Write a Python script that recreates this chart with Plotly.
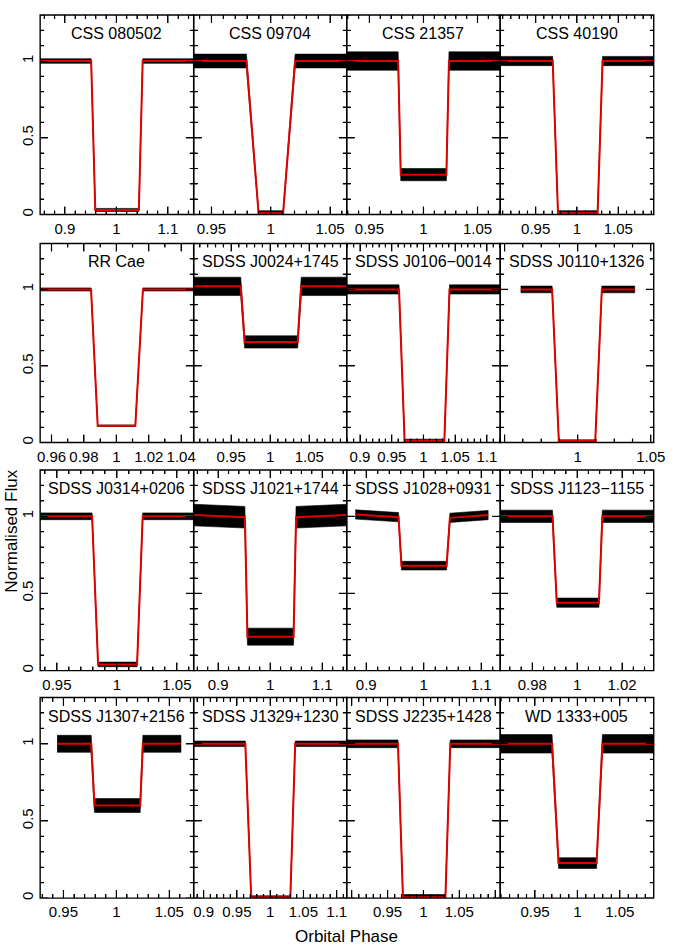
import math
import plotly.graph_objects as go

# ---------------- data ----------------
names = ["CSS 080502", "CSS 09704", "CSS 21357", "CSS 40190",
         "RR Cae", "SDSS J0024+1745", "SDSS J0106\u22120014", "SDSS J0110+1326",
         "SDSS J0314+0206", "SDSS J1021+1744", "SDSS J1028+0931", "SDSS J1123\u22121155",
         "SDSS J1307+2156", "SDSS J1329+1230", "SDSS J2235+1428", "WD 1333+005"]

# orbital-phase axis ranges
x_lo = [0.852, 0.935, 0.929, 0.907,
        0.953, 0.902, 0.879, 0.947,
        0.936, 0.853, 0.866, 0.9657,
        0.928, 0.885, 0.893, 0.909]
x_hi = [1.150, 1.064, 1.071, 1.093,
        1.0477, 1.098, 1.121, 1.052,
        1.064, 1.147, 1.133, 1.0341,
        1.073, 1.115, 1.107, 1.090]

# phase coverage of the observations
obs_start = [0.852, 0.935, 0.929, 0.907,
             0.953, 0.902, 0.879, 0.961,
             0.936, 0.853, 0.881, 0.9657,
             0.944, 0.885, 0.893, 0.909]
obs_end = [1.150, 1.064, 1.071, 1.093,
           1.0477, 1.098, 1.121, 1.039,
           1.064, 1.147, 1.112, 1.0341,
           1.061, 1.115, 1.107, 1.090]

# eclipse contact phases (start ingress, end ingress, start egress, end egress)
t1 = [0.951, 0.9795, 0.9766, 0.9706, 0.9844, 0.9623, 0.9615, 0.9825,
      0.9793, 0.9514, 0.9562, 0.9890, 0.9762, 0.9626, 0.9645, 0.9701]
t2 = [0.959, 0.9897, 0.9790, 0.9770, 0.9885, 0.9673, 0.9703, 0.9871,
      0.9843, 0.9563, 0.9613, 0.9909, 0.9793, 0.9715, 0.9714, 0.9778]
t3 = [1.0436, 1.0104, 1.0212, 1.0250, 1.0117, 1.0352, 1.0329, 1.0120,
      1.0168, 1.0449, 1.0397, 1.0097, 1.0225, 1.0303, 1.0306, 1.0226]
t4 = [1.051, 1.0205, 1.0236, 1.0310, 1.0164, 1.0397, 1.0411, 1.0165,
      1.0215, 1.0497, 1.0455, 1.0112, 1.0250, 1.0376, 1.0374, 1.0295]

# out-of-eclipse model flux at: obs start, ingress, egress, obs end
flux_start = [1.0, 1.0, 1.0, 1.0, 1.0, 1.02, 1.0, 1.0, 1.0, 1.008, 1.012, 1.0, 1.0, 1.0, 1.0, 1.0]
flux_in = [1.0, 1.0, 1.0, 1.0, 1.0, 1.02, 1.0, 1.0, 1.0, 0.994, 0.994, 1.0, 1.0, 1.0, 1.0, 1.0]
flux_eg = [1.0, 1.0, 1.0, 1.0, 1.0, 1.02, 1.0, 1.0, 1.0, 0.994, 0.990, 1.0, 1.0, 1.0, 1.0, 1.0]
flux_end = [1.0, 1.0, 1.0, 1.0, 1.0, 1.02, 1.0, 1.0, 1.0, 1.008, 1.008, 1.0, 1.0, 1.0, 1.0, 1.0]

# flux at mid-eclipse
flux_min = [0.03, 0.01, 0.26, 0.01, 0.11, 0.657, 0.01, 0.01,
            0.04, 0.22, 0.68, 0.44, 0.60, 0.005, 0.005, 0.227]

# typical scatter half-width of the observed points (out of / in eclipse)
scatter_out = [0.015, 0.045, 0.06, 0.03, 0.01, 0.06, 0.03, 0.022,
               0.022, 0.07, 0.03, 0.04, 0.055, 0.018, 0.025, 0.06]
scatter_in = [0.01, 0.015, 0.04, 0.015, 0.005, 0.04, 0.012, 0.008,
              0.015, 0.055, 0.028, 0.03, 0.045, 0.01, 0.018, 0.035]

# x tick labels per panel
tick_vals = [[0.9, 1, 1.1], [0.95, 1, 1.05], [0.95, 1, 1.05], [0.95, 1, 1.05],
             [0.96, 0.98, 1, 1.02, 1.04], [0.95, 1, 1.05], [0.9, 0.95, 1, 1.05, 1.1], [0.95, 1, 1.05],
             [0.95, 1, 1.05], [0.9, 1, 1.1], [0.9, 1, 1.1], [0.98, 1, 1.02],
             [0.95, 1, 1.05], [0.9, 0.95, 1, 1.05, 1.1], [0.9, 0.95, 1, 1.05, 1.1], [0.95, 1, 1.05]]
tick_text = [["0.9", "1", "1.1"], ["0.95", "1", "1.05"], ["0.95", "1", "1.05"], ["0.95", "1", "1.05"],
             ["0.96", "0.98", "1", "1.02", "1.04"], ["0.95", "1", "1.05"],
             ["0.9", "0.95", "1", "1.05", "1.1"], ["", "1", "1.05"],
             ["0.95", "1", "1.05"], ["0.9", "1", "1.1"], ["0.9", "1", "1.1"], ["0.98", "1", "1.02"],
             ["0.95", "1", "1.05"], ["0.9", "0.95", "1", "1.05", "1.1"],
             ["", "0.95", "1", "1.05", ""], ["0.95", "1", "1.05"]]
minor_step = [0.02, 0.01, 0.01, 0.01, 0.01, 0.01, 0.01, 0.0125,
              0.01, 0.02, 0.02, 0.005, 0.01, 0.01, 0.01, 0.01]

y_ticks = [0, 0.5, 1]
y_tick_text = ["0", "0.5", "1"]
y_minor_step = 0.1
Y_MAX = 1.3

# ---------------- layout geometry (pixels) ----------------
W, H = 676, 947
col_edges = [38, 195, 351.5, 508.5, 665.5]
row_edges = [(15, 215), (244, 443.5), (471, 672), (699, 900)]
MAJOR_PX, MINOR_PX = 8, 4

FONT = "Liberation Sans, Arial, Helvetica, sans-serif"
RED = "rgb(225,0,0)"
CLEAR = "rgba(0,0,0,0)"


def minor_positions(lo, hi, step, majors):
    out = []
    for n in range(math.ceil(lo / step - 1e-9), math.floor(hi / step + 1e-9) + 1):
        v = n * step
        if all(abs(v - m) > step * 0.1 for m in majors):
            out.append(v)
    return out


fig = go.Figure()
layout = dict(width=W, height=H, margin=dict(l=0, r=0, t=0, b=0),
              paper_bgcolor="white", plot_bgcolor="white", showlegend=False,
              font=dict(family=FONT, size=15, color="black"))
annotations = []
shapes = []

for i in range(16):
    r, c = divmod(i, 4)
    k = i + 1
    xs = "" if k == 1 else str(k)
    xref, yref = "x" + xs, "y" + xs

    x0, x1 = col_edges[c] / W, col_edges[c + 1] / W
    ytop, ybot = row_edges[r]
    y0, y1 = 1 - ybot / H, 1 - ytop / H
    pw = col_edges[c + 1] - col_edges[c]
    ph = ybot - ytop

    # model light curve vertices
    mx = [obs_start[i], t1[i], t2[i], t3[i], t4[i], obs_end[i]]
    my = [flux_start[i], flux_in[i], flux_min[i], flux_min[i], flux_eg[i], flux_end[i]]
    sc = [scatter_out[i], scatter_out[i], scatter_in[i], scatter_in[i], scatter_out[i], scatter_out[i]]
    up = [y + s for y, s in zip(my, sc)]
    lo = [y - s for y, s in zip(my, sc)]

    fig.add_trace(go.Scatter(x=mx + mx[::-1], y=up + lo[::-1], mode="lines",
                             fill="toself", fillcolor="black",
                             line=dict(color="black", width=0.6),
                             xaxis=xref, yaxis=yref, hoverinfo="skip"))

    # tick marks on all four sides (inside), built from the tick arrays
    tx, ty = [], []
    xr = x_hi[i] - x_lo[i]
    for vals, plen in ((tick_vals[i], MAJOR_PX),
                       (minor_positions(x_lo[i], x_hi[i], minor_step[i], tick_vals[i]), MINOR_PX)):
        dy = plen / ph * Y_MAX
        for v in vals:
            tx += [v, v, None, v, v, None]
            ty += [0, dy, None, Y_MAX, Y_MAX - dy, None]
    for vals, plen in ((y_ticks, MAJOR_PX),
                       (minor_positions(0, Y_MAX, y_minor_step, y_ticks), MINOR_PX)):
        dx = plen / pw * xr
        for v in vals:
            tx += [x_lo[i], x_lo[i] + dx, None, x_hi[i], x_hi[i] - dx, None]
            ty += [v, v, None, v, v, None]
    fig.add_trace(go.Scatter(x=tx, y=ty, mode="lines", connectgaps=False,
                             line=dict(color="black", width=1.2),
                             xaxis=xref, yaxis=yref, hoverinfo="skip"))

    fig.add_trace(go.Scatter(x=mx, y=my, mode="lines",
                             line=dict(color=RED, width=2),
                             xaxis=xref, yaxis=yref, hoverinfo="skip"))

    layout["xaxis" + xs] = dict(
        domain=[x0, x1], range=[x_lo[i], x_hi[i]], anchor=yref,
        tickmode="array", tickvals=tick_vals[i], ticktext=tick_text[i],
        ticks="inside", ticklen=8, tickcolor="black", tickwidth=1.2,
        minor=dict(dtick=minor_step[i], tick0=1, ticks="inside", ticklen=4, tickcolor="black"),
        showline=True, linecolor=CLEAR, linewidth=1, mirror="ticks",
        showgrid=False, zeroline=False,
        tickfont=dict(family=FONT, size=15, color="black"))
    layout["yaxis" + xs] = dict(
        domain=[y0, y1], range=[0, Y_MAX], anchor=xref,
        tickmode="array", tickvals=y_ticks, ticktext=y_tick_text,
        showticklabels=(c == 0), tickangle=-90,
        ticks="inside", ticklen=8, tickcolor="black", tickwidth=1.2,
        minor=dict(dtick=y_minor_step, tick0=0, ticks="inside", ticklen=4, tickcolor="black"),
        showline=True, linecolor=CLEAR, linewidth=1, mirror="ticks",
        showgrid=False, zeroline=False,
        tickfont=dict(family=FONT, size=15, color="black"))

    shapes.append(dict(type="rect", xref=xref + " domain", yref=yref + " domain",
                       x0=0, x1=1, y0=0, y1=1, layer="above",
                       line=dict(color="black", width=1.4), fillcolor=CLEAR))

    annotations.append(dict(text=names[i], xref=xref + " domain", yref=yref + " domain",
                            x=0.5, y=1, xanchor="center", yanchor="top", yshift=-8,
                            showarrow=False, font=dict(family=FONT, size=16, color="black")))

annotations.append(dict(text="Normalised Flux", xref="paper", yref="paper",
                        x=9 / W, y=1 - 532 / H, xanchor="center", yanchor="middle",
                        textangle=-90, showarrow=False,
                        font=dict(family=FONT, size=17, color="black")))
annotations.append(dict(text="Orbital Phase", xref="paper", yref="paper",
                        x=351.75 / W, y=1 - 938 / H, xanchor="center", yanchor="middle",
                        showarrow=False, font=dict(family=FONT, size=17, color="black")))
layout["annotations"] = annotations
layout["shapes"] = shapes

fig.update_layout(**layout)
fig.write_html("out.html")
